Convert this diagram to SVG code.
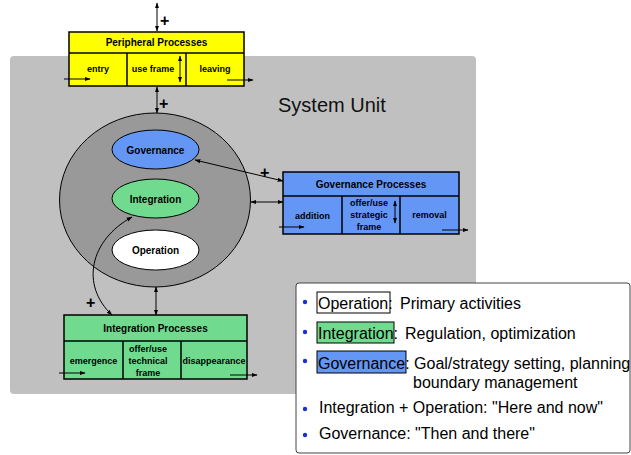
<svg xmlns="http://www.w3.org/2000/svg" width="631" height="455" viewBox="0 0 631 455">
<defs>
<marker id="ah" viewBox="0 0 10 10" refX="9" refY="5" markerWidth="6" markerHeight="6" orient="auto-start-reverse" markerUnits="userSpaceOnUse">
<path d="M0,1.5 L10,5 L0,8.5 Z" fill="#000"/>
</marker>
</defs>
<style>
.box{stroke:#000;stroke-width:1.5}
.yel{fill:#ffff00}
.blu{fill:#6496f5}
.grn{fill:#70db8f}
.t{font-family:"Liberation Sans",Arial,sans-serif;font-weight:bold;fill:#000;text-anchor:middle}
.h{font-size:10px}
.c{font-size:9px}
.e{font-size:10px}
.plus{font-family:"Liberation Sans",Arial,sans-serif;font-weight:bold;font-size:16px;fill:#000}
.ar{stroke:#000;stroke-width:1;fill:none;marker-end:url(#ah)}
.ar2{stroke:#000;stroke-width:1;fill:none;marker-end:url(#ah);marker-start:url(#ah)}
.lg{font-family:"Liberation Sans",Arial,sans-serif;font-size:16px;fill:#000}
.bul{fill:#1a2fd8}
</style>

<g id="system-unit">
<rect x="10" y="56" width="466" height="338" rx="4" fill="#c0c0c0"/>
<text x="278" y="112" font-family="'Liberation Sans',Arial,sans-serif" font-size="20" fill="#111">System Unit</text>
</g>

<g id="core">
<ellipse cx="155" cy="200" rx="95.5" ry="87" fill="#999" stroke="#000" stroke-width="1"/>
</g>
<g id="governance">
<ellipse cx="155.5" cy="149.5" rx="43.5" ry="19.5" class="blu" stroke="#000" stroke-width="1"/>
<text x="155.5" y="153.5" class="t e">Governance</text>
</g>
<g id="integration">
<ellipse cx="155.5" cy="198.5" rx="43.5" ry="19.5" class="grn" stroke="#000" stroke-width="1"/>
<text x="155.5" y="202.5" class="t e">Integration</text>
</g>
<g id="operation">
<ellipse cx="155.5" cy="250" rx="43.5" ry="20" fill="#fff" stroke="#000" stroke-width="1"/>
<text x="155.5" y="254" class="t e">Operation</text>
</g>

<g id="peripheral-processes">
<rect x="69" y="32" width="175" height="54" class="box yel"/>
<line x1="69" y1="53" x2="244" y2="53" class="box"/>
<line x1="127" y1="53" x2="127" y2="86" class="box"/>
<line x1="186" y1="53" x2="186" y2="86" class="box"/>
<text x="156.5" y="46" class="t h">Peripheral Processes</text>
<text x="98" y="72" class="t c">entry</text>
<text x="153" y="72" class="t c">use frame</text>
<text x="215" y="72" class="t c">leaving</text>
</g>

<g id="governance-processes">
<rect x="283" y="172" width="176" height="62" class="box blu"/>
<line x1="283" y1="196" x2="459" y2="196" class="box"/>
<line x1="342" y1="196" x2="342" y2="234" class="box"/>
<line x1="400" y1="196" x2="400" y2="234" class="box"/>
<text x="371" y="188" class="t h">Governance Processes</text>
<text x="312.5" y="219" class="t c">addition</text>
<text x="369" y="206" class="t c">offer/use</text>
<text x="369" y="218" class="t c">strategic</text>
<text x="369" y="230" class="t c">frame</text>
<text x="429.5" y="218" class="t c">removal</text>
</g>

<g id="integration-processes">
<rect x="64" y="315" width="183" height="64" class="box grn"/>
<line x1="64" y1="341" x2="247" y2="341" class="box"/>
<line x1="123" y1="341" x2="123" y2="379" class="box"/>
<line x1="181" y1="341" x2="181" y2="379" class="box"/>
<text x="155.5" y="332" class="t h">Integration Processes</text>
<text x="93.5" y="364" class="t c">emergence</text>
<text x="148" y="352" class="t c">offer/use</text>
<text x="148" y="364" class="t c">technical</text>
<text x="148" y="376" class="t c">frame</text>
<text x="214" y="364" class="t c">disappearance</text>
</g>

<g id="connectors">
<line x1="157" y1="3" x2="157" y2="31" class="ar2"/>
<line x1="157" y1="87" x2="157" y2="113" class="ar2"/>
<line x1="64" y1="79" x2="90" y2="79" class="ar"/>
<line x1="227" y1="80" x2="253" y2="80" class="ar"/>
<line x1="180" y1="56" x2="180" y2="82" class="ar2"/>
<line x1="195" y1="160" x2="283" y2="181" class="ar2"/>
<line x1="251" y1="202" x2="283" y2="202" class="ar2"/>
<line x1="279" y1="227" x2="304" y2="227" class="ar"/>
<line x1="442" y1="230" x2="468" y2="230" class="ar"/>
<line x1="395" y1="201" x2="395" y2="223" class="ar2"/>
<line x1="156" y1="287" x2="156" y2="315" class="ar2"/>
<path d="M132,217 C90,240 80,285 112,315" class="ar2"/>
<line x1="59" y1="373" x2="85" y2="373" class="ar"/>
<line x1="230" y1="375" x2="257" y2="375" class="ar"/>
<text x="160" y="26" class="plus">+</text>
<text x="159" y="109" class="plus">+</text>
<text x="260" y="178" class="plus">+</text>
<text x="86" y="308" class="plus">+</text>
</g>

<g id="legend">
<rect x="296" y="283" width="334" height="170" rx="3" fill="#fff" stroke="#444" stroke-width="1"/>
<circle cx="305" cy="302" r="2.2" class="bul"/>
<circle cx="305" cy="332" r="2.2" class="bul"/>
<circle cx="305" cy="361" r="2.2" class="bul"/>
<circle cx="305" cy="409" r="2.2" class="bul"/>
<circle cx="305" cy="435" r="2.2" class="bul"/>
<rect x="317" y="292" width="73" height="21" fill="#fff" stroke="#000" stroke-width="1"/>
<rect x="317" y="322" width="77" height="21" class="grn" stroke="#000" stroke-width="1"/>
<rect x="317" y="351" width="89" height="22" class="blu" stroke="#000" stroke-width="1"/>
<text x="318" y="309" class="lg">Operation:<tspan x="400">Primary activities</tspan></text>
<text x="318" y="339" class="lg">Integration:<tspan x="405">Regulation, optimization</tspan></text>
<text x="318" y="369" class="lg">Governance: Goal/strategy setting, planning</text>
<text x="413" y="388" class="lg">boundary management</text>
<text x="319" y="413" class="lg">Integration + Operation: "Here and now"</text>
<text x="319" y="439" class="lg">Governance: "Then and there"</text>
</g>
</svg>
